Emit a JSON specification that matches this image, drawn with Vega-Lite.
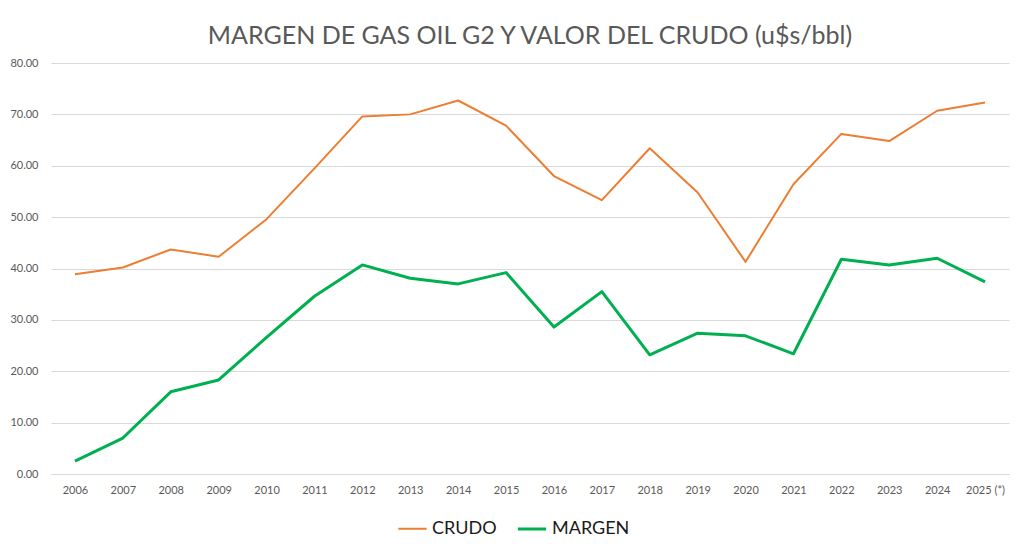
{
  "$schema": "https://vega.github.io/schema/vega-lite/v6.json",
  "width": 958,
  "height": 411,
  "autosize": "none",
  "padding": {"left": 51, "top": 63, "right": 14, "bottom": 79},
  "background": "white",
  "title": {
    "text": "MARGEN DE GAS OIL G2 Y VALOR DEL CRUDO (u$s/bbl)",
    "font": "Lato",
    "fontSize": 25,
    "fontWeight": "normal",
    "color": "#595959",
    "anchor": "middle",
    "baseline": "alphabetic",
    "offset": -12
  },
  "config": {
    "view": {"stroke": null},
    "font": "Lato"
  },
  "data": {
    "values": [
      {"year": "2006", "serie": "CRUDO", "valor": 38.9},
      {"year": "2007", "serie": "CRUDO", "valor": 40.2},
      {"year": "2008", "serie": "CRUDO", "valor": 43.7},
      {"year": "2009", "serie": "CRUDO", "valor": 42.3},
      {"year": "2010", "serie": "CRUDO", "valor": 49.6},
      {"year": "2011", "serie": "CRUDO", "valor": 59.5},
      {"year": "2012", "serie": "CRUDO", "valor": 69.6},
      {"year": "2013", "serie": "CRUDO", "valor": 70.0},
      {"year": "2014", "serie": "CRUDO", "valor": 72.7},
      {"year": "2015", "serie": "CRUDO", "valor": 67.8},
      {"year": "2016", "serie": "CRUDO", "valor": 58.0},
      {"year": "2017", "serie": "CRUDO", "valor": 53.3},
      {"year": "2018", "serie": "CRUDO", "valor": 63.4},
      {"year": "2019", "serie": "CRUDO", "valor": 54.8},
      {"year": "2020", "serie": "CRUDO", "valor": 41.3},
      {"year": "2021", "serie": "CRUDO", "valor": 56.4},
      {"year": "2022", "serie": "CRUDO", "valor": 66.2},
      {"year": "2023", "serie": "CRUDO", "valor": 64.8},
      {"year": "2024", "serie": "CRUDO", "valor": 70.7},
      {"year": "2025 (*)", "serie": "CRUDO", "valor": 72.3},
      {"year": "2006", "serie": "MARGEN", "valor": 2.5},
      {"year": "2007", "serie": "MARGEN", "valor": 7.0},
      {"year": "2008", "serie": "MARGEN", "valor": 16.0},
      {"year": "2009", "serie": "MARGEN", "valor": 18.3},
      {"year": "2010", "serie": "MARGEN", "valor": 26.6},
      {"year": "2011", "serie": "MARGEN", "valor": 34.6},
      {"year": "2012", "serie": "MARGEN", "valor": 40.7},
      {"year": "2013", "serie": "MARGEN", "valor": 38.1},
      {"year": "2014", "serie": "MARGEN", "valor": 37.0},
      {"year": "2015", "serie": "MARGEN", "valor": 39.2},
      {"year": "2016", "serie": "MARGEN", "valor": 28.6},
      {"year": "2017", "serie": "MARGEN", "valor": 35.5},
      {"year": "2018", "serie": "MARGEN", "valor": 23.2},
      {"year": "2019", "serie": "MARGEN", "valor": 27.4},
      {"year": "2020", "serie": "MARGEN", "valor": 26.9},
      {"year": "2021", "serie": "MARGEN", "valor": 23.4},
      {"year": "2022", "serie": "MARGEN", "valor": 41.8},
      {"year": "2023", "serie": "MARGEN", "valor": 40.7},
      {"year": "2024", "serie": "MARGEN", "valor": 42.0},
      {"year": "2025 (*)", "serie": "MARGEN", "valor": 37.4}
    ]
  },
  "mark": {"type": "line", "strokeJoin": "round"},
  "encoding": {
    "x": {
      "field": "year",
      "type": "ordinal",
      "sort": null,
      "scale": {"padding": 0.5},
      "axis": {
        "title": null,
        "labelAngle": 0,
        "labelFont": "Lato",
        "labelFontSize": 11,
        "labelColor": "#595959",
        "labelPadding": 10,
        "ticks": false,
        "domain": true,
        "domainColor": "#d9d9d9",
        "grid": false
      }
    },
    "y": {
      "field": "valor",
      "type": "quantitative",
      "scale": {"domain": [0, 80], "nice": false},
      "axis": {
        "title": null,
        "format": ".2f",
        "values": [0, 10, 20, 30, 40, 50, 60, 70, 80],
        "labelFont": "Lato",
        "labelFontSize": 11,
        "labelColor": "#595959",
        "labelPadding": 13,
        "ticks": false,
        "domain": false,
        "grid": true,
        "gridColor": "#d9d9d9",
        "gridWidth": 1
      }
    },
    "color": {
      "field": "serie",
      "type": "nominal",
      "scale": {"domain": ["CRUDO", "MARGEN"], "range": ["#ED7D31", "#00B050"]},
      "legend": {
        "title": null,
        "orient": "none",
        "legendX": 346,
        "legendY": 450,
        "direction": "horizontal",
        "symbolType": "stroke",
        "symbolSize": 800,
        "symbolStrokeWidth": 3,
        "labelFont": "Lato",
        "labelFontSize": 18,
        "labelColor": "#1a1a1a",
        "columnPadding": 14,
        "labelOffset": 4
      }
    },
    "strokeWidth": {
      "field": "serie",
      "type": "nominal",
      "scale": {"domain": ["CRUDO", "MARGEN"], "range": [2, 3]},
      "legend": null
    }
  }
}
